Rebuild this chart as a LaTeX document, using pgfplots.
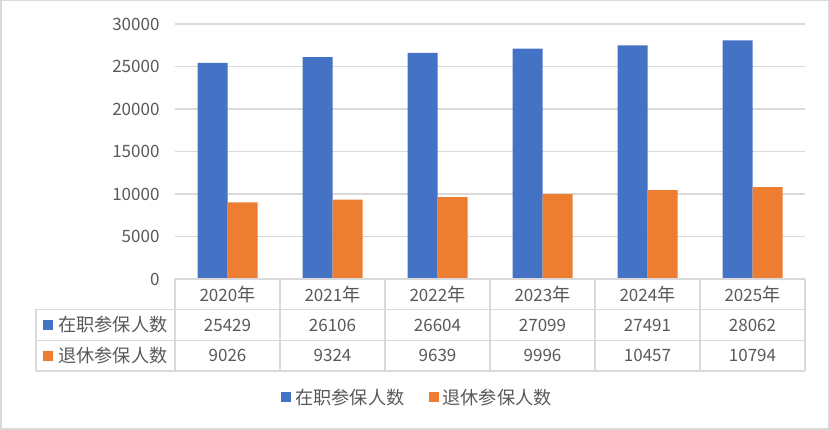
\documentclass[border=0pt]{standalone}
\usepackage{pgfplots}
\pgfplotsset{compat=1.18}
\usepackage{fontspec}
\setmainfont{Noto Sans CJK SC}
\definecolor{cblue}{HTML}{4472C4}
\definecolor{corange}{HTML}{ED7D31}
\definecolor{ctext}{HTML}{595959}
\definecolor{cgrid}{HTML}{D9D9D9}
\newcommand{\tf}{\fontsize{17}{20}\selectfont}
\newcommand{\cf}{\fontsize{18.2}{21}\selectfont}
\begin{document}
\begin{tikzpicture}[x=1pt,y=1pt]
\useasboundingbox (0,0) rectangle (829,430);
\draw[cgrid, line width=1.5pt] (0.75,0.75) rectangle (828.25,429.25);
\begin{axis}[
  at={(175pt,151pt)}, anchor=south west, scale only axis,
  width=630pt, height=255pt,
  ymin=0, ymax=30000, xmin=-0.5, xmax=5.5,
  ybar=0pt, bar width=30pt,
  ytick={0,5000,...,30000}, xtick=\empty,
  ymajorgrids, grid style={cgrid, line width=1.2pt},
  axis line style={draw=none}, major tick length=0pt,
  scaled y ticks=false,
  /pgf/number format/1000 sep={}, /pgf/number format/assume math mode=true,
  yticklabel style={font=\tf, text=ctext, anchor=east, xshift=-12pt},
  legend columns=2,
  legend style={at={(0.385,-0.463)}, anchor=center, draw=none, fill=none,
    font=\cf, text=ctext,
    /tikz/every odd column/.append style={column sep=2pt},
    /tikz/every even column/.append style={column sep=22pt}},
  legend image code/.code={\fill[#1] (0pt,-5pt) rectangle (10pt,5pt);},
]
\addplot[fill=cblue, draw=none] coordinates {(0,25429) (1,26106) (2,26604) (3,27099) (4,27491) (5,28062)};
\addplot[fill=corange, draw=none] coordinates {(0,9026) (1,9324) (2,9639) (3,9996) (4,10457) (5,10794)};
\legend{在职参保人数, 退休参保人数}
\end{axis}
% data table
\begin{scope}[cgrid, line width=1.5pt]
\draw (175,151)--(805,151);
\draw (36,120.5)--(805,120.5);
\draw (36,89.5)--(805,89.5);
\draw (36,59)--(805,59);
\draw (36,120.5)--(36,59);
\foreach \k in {0,...,6} {\draw (175+105*\k,151)--(175+105*\k,59);}
\end{scope}
\fill[cblue] (43,100) rectangle (53,110);
\fill[corange] (43,69.25) rectangle (53,79.25);
\node[anchor=west, inner sep=0, font=\cf, text=ctext] at (58,105) {在职参保人数};
\node[anchor=west, inner sep=0, font=\cf, text=ctext] at (58,74.25) {退休参保人数};
\foreach \y/\a/\b [count=\i from 0] in {2020/25429/9026, 2021/26106/9324, 2022/26604/9639, 2023/27099/9996, 2024/27491/10457, 2025/28062/10794} {
  \node[font=\tf, text=ctext] at (227.5+105*\i,135.75) {\y{\cf 年}};
  \node[font=\tf, text=ctext] at (227.5+105*\i,105) {\a};
  \node[font=\tf, text=ctext] at (227.5+105*\i,74.25) {\b};
}
\end{tikzpicture}
\end{document}
